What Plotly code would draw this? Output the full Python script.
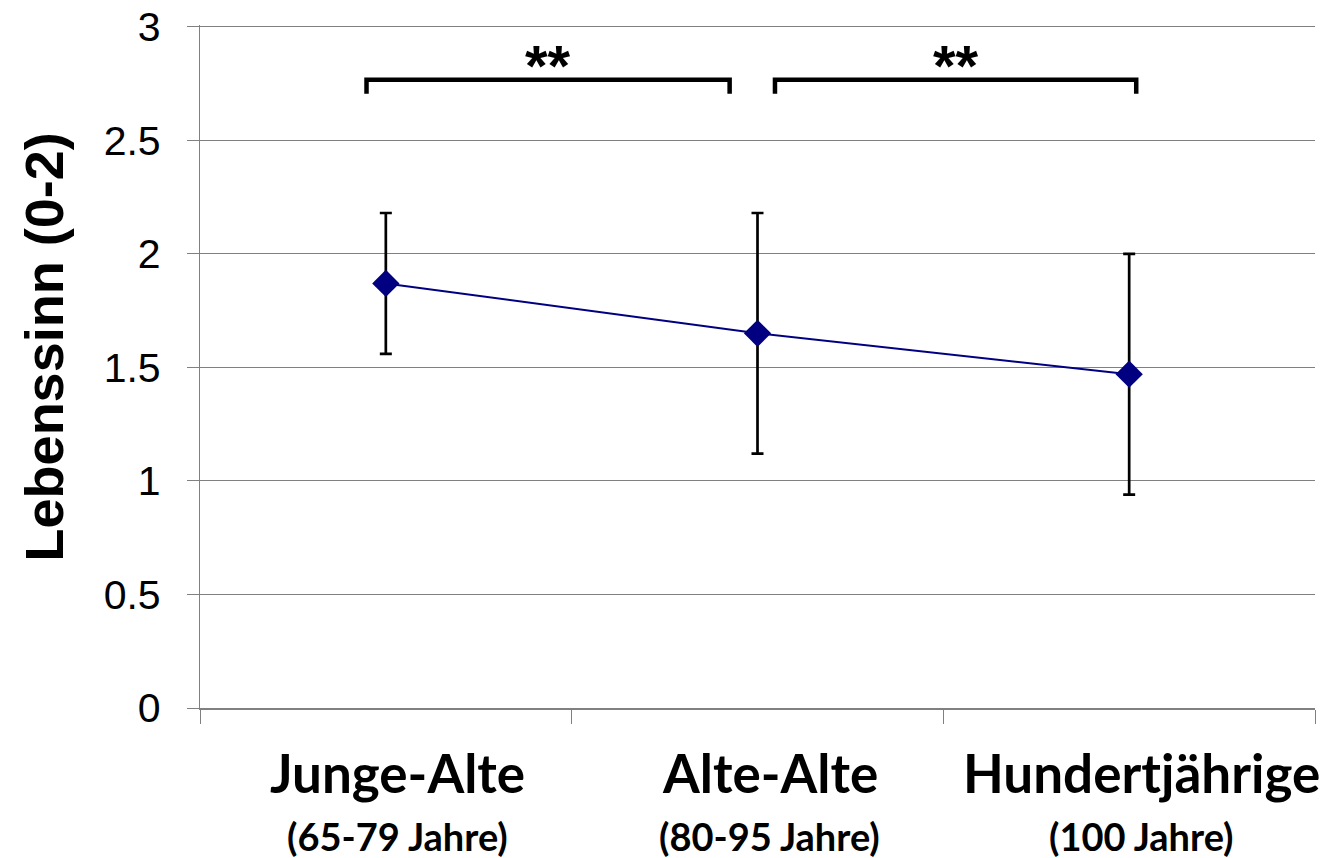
import plotly.graph_objects as go

categories = ["Junge-Alte", "Alte-Alte", "Hundertjährige"]
subtitles = ["(65-79 Jahre)", "(80-95 Jahre)", "(100 Jahre)"]
means = [1.87, 1.65, 1.47]
err_plus = [0.31, 0.53, 0.53]
err_minus = [0.31, 0.53, 0.53]
y_ticks = [0, 0.5, 1, 1.5, 2, 2.5, 3]
y_tick_labels = ["0", "0.5", "1", "1.5", "2", "2.5", "3"]
y_title = "Lebenssinn (0-2)"
# significance brackets: (x_start, x_end) in category units, label
sig_brackets = [(-0.052, 0.925, "**"), (1.047, 2.019, "**")]
sig_y_top = 2.767
sig_y_leg = 2.705
sig_label_y = 2.83

fig = go.Figure()
fig.add_trace(go.Scatter(
    x=[0, 1, 2], y=means,
    mode="lines+markers",
    line=dict(color="#000080", width=2),
    marker=dict(symbol="diamond", size=21, color="#000080"),
    error_y=dict(type="data", symmetric=False, array=err_plus, arrayminus=err_minus,
                 color="black", thickness=2.7, width=6),
    showlegend=False,
))

for x0, x1, lab in sig_brackets:
    fig.add_shape(type="path",
                  path=f"M {x0},{sig_y_leg} L {x0},{sig_y_top} L {x1},{sig_y_top} L {x1},{sig_y_leg}",
                  xref="x", yref="y", line=dict(color="black", width=4.5))
    fig.add_annotation(x=(x0 + x1) / 2, y=sig_label_y, xref="x", yref="y",
                       text=f"<b>{lab}</b>", showarrow=False, yanchor="middle",
                       font=dict(family="Liberation Sans", size=58, color="black"))

for i, (c, s) in enumerate(zip(categories, subtitles)):
    fig.add_annotation(x=i, y=-0.094, xref="x", yref="paper", text=f"<b>{c}</b>",
                       showarrow=False, xshift=12, yanchor="middle",
                       font=dict(family="Lato", size=53, color="black"))
    fig.add_annotation(x=i, y=-0.188, xref="x", yref="paper", text=f"<b>{s}</b>",
                       showarrow=False, xshift=12, yanchor="middle",
                       font=dict(family="Lato", size=38, color="black"))

fig.add_annotation(x=-0.14, y=0.5, xref="paper", yref="paper", text=f"<b>{y_title}</b>",
                   textangle=-90, showarrow=False, yshift=20, xanchor="center", yanchor="middle",
                   font=dict(family="Liberation Sans", size=54, color="black"))

fig.update_xaxes(
    type="linear", range=[-0.5, 2.5], automargin=False,
    tickvals=[-0.5, 0.5, 1.5, 2.5], showticklabels=False,
    ticks="outside", ticklen=14, tickcolor="#808080", tickwidth=1.3,
    showgrid=False, zeroline=False,
    showline=True, linecolor="#808080", linewidth=1.5,
)
fig.update_yaxes(
    range=[0, 3.008], tickvals=y_ticks, ticktext=y_tick_labels, automargin=False,
    ticks="outside", ticklen=12, tickcolor="#808080", tickwidth=1.3,
    ticklabelstandoff=18, ticklabeloverflow="allow",
    showgrid=True, gridcolor="#808080", gridwidth=1.3,
    zeroline=False, showline=True, linecolor="#808080", linewidth=1.3,
    tickfont=dict(family="Liberation Sans", size=41, color="black"),
)
fig.update_layout(
    width=1322, height=850,
    margin=dict(l=192, r=15, t=17, b=150),
    plot_bgcolor="white", paper_bgcolor="white",
)
fig.write_html("out.html")
